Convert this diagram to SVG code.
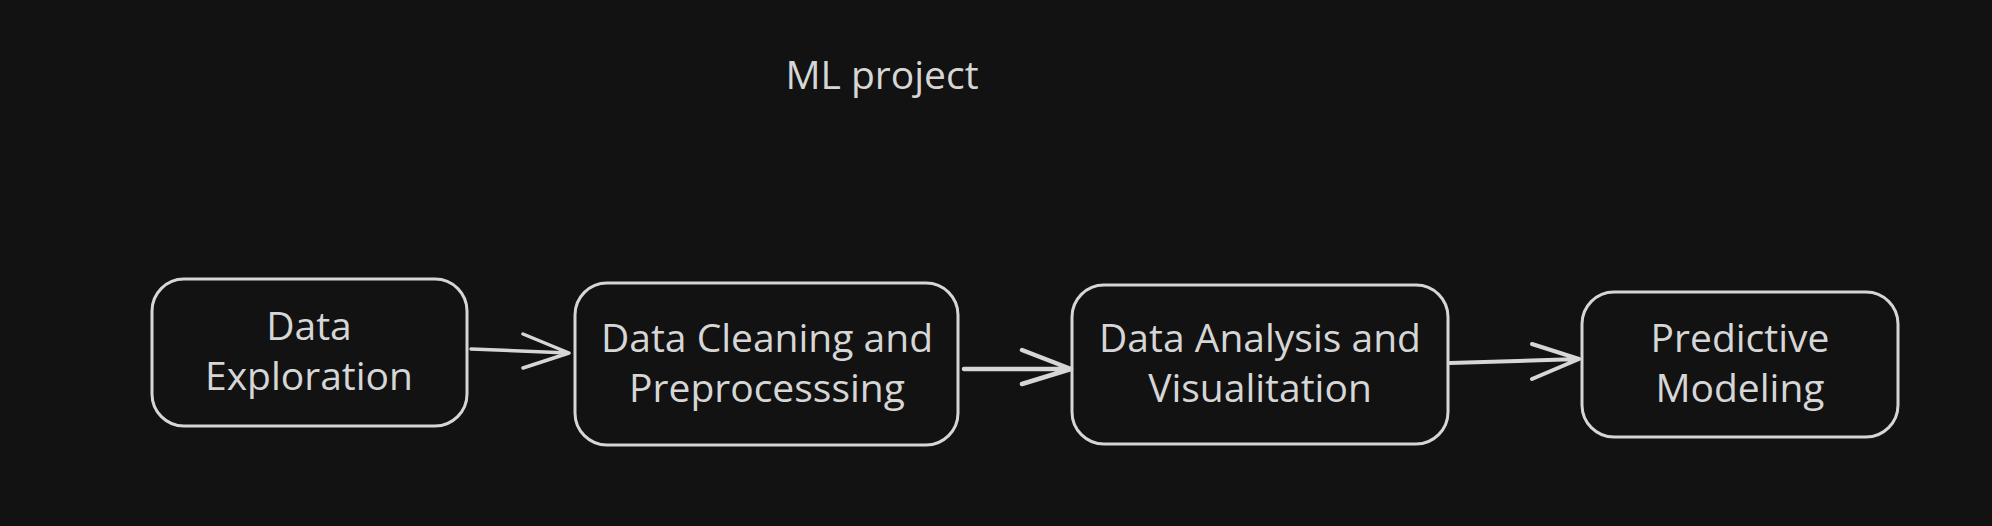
<svg xmlns="http://www.w3.org/2000/svg" width="1992" height="526" viewBox="0 0 1992 526">
<style>
.bg{fill:#121212}
.box{fill:#121212;stroke:#d6d6d6;stroke-width:3}
.t{fill:#d6d6d6;font-family:"Open Sans","Noto Sans",sans-serif;font-size:39px;text-anchor:middle}
.c{fill:none;stroke:#d6d6d6;stroke-width:3.5;stroke-linecap:round;stroke-linejoin:round}
</style>
<rect class="bg" x="0" y="0" width="1992" height="526"/>
<text id="title" class="t" x="882" y="89">ML project</text>
<g id="node-exploration">
<rect class="box" x="152" y="279" width="315" height="147" rx="32"/>
<text class="t" x="309" y="340">Data</text>
<text class="t" x="309" y="390">Exploration</text>
</g>
<g id="node-cleaning">
<rect class="box" x="575" y="283" width="383" height="162" rx="32"/>
<text class="t" x="767" y="352">Data Cleaning and</text>
<text class="t" x="767" y="402">Preprocesssing</text>
</g>
<g id="node-analysis">
<rect class="box" x="1072" y="285" width="376" height="159" rx="32"/>
<text class="t" x="1260" y="352">Data Analysis and</text>
<text class="t" x="1260" y="402">Visualitation</text>
</g>
<g id="node-modeling">
<rect class="box" x="1582" y="292" width="316" height="145" rx="32"/>
<text class="t" x="1740" y="352">Predictive</text>
<text class="t" x="1740" y="402">Modeling</text>
</g>
<g id="connectors">
<path class="c" d="M471 349 L569 353 M523 334 L569 353 L523 368"/>
<path class="c" d="M964 369 L1071 369 M1022 350 L1071 369 L1022 384" style="stroke-width:4.5"/>
<path class="c" d="M1450 363 L1579 359 M1532 344 L1579 359 L1532 379" style="stroke-width:4"/>
</g>
</svg>
